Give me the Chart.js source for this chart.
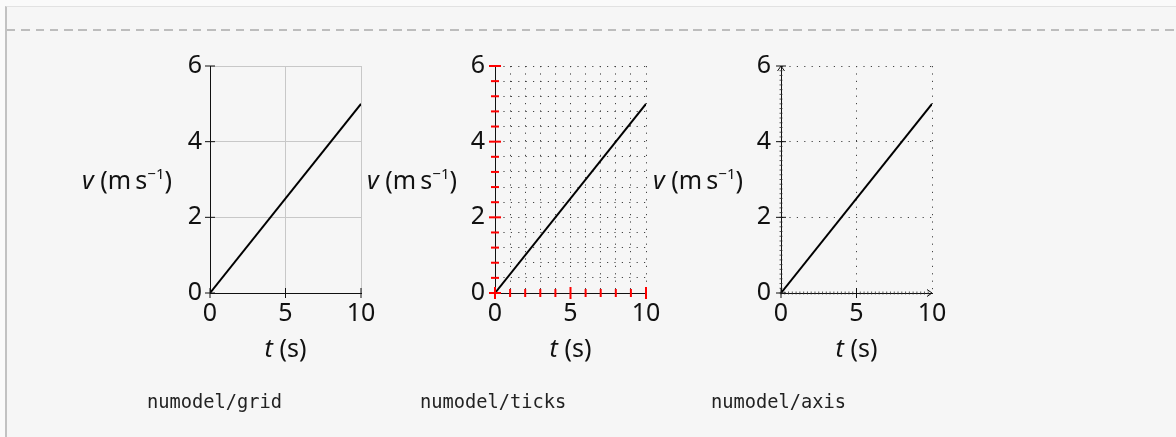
<!DOCTYPE html>
<html>
<head>
<meta charset="utf-8">
<script src="https://cdn.jsdelivr.net/npm/chart.js@4/dist/chart.umd.min.js"></script>
<style>
  html, body { margin: 0; padding: 0; }
  body { width: 1176px; height: 437px; background: #fafafa; position: relative; overflow: hidden; font-family: "Noto Sans", sans-serif; }
  #frame { position: absolute; left: 5px; top: 6px; right: 0; bottom: 0; background: #f6f6f6; border-top: 1px solid #e2e2e2; border-left: 2px solid #c2c2c2; }
  #dash { position: absolute; left: 7px; right: 0; top: 29px; height: 2px;
          background: repeating-linear-gradient(90deg, #bdbdbd 0 8.5px, transparent 8.5px 14.3px); }
  .panel { position: absolute; top: 36px; }
  .ylab, .xlab { position: absolute; font-size: 25px; line-height: 26px; color: #111; white-space: nowrap; }
  .ylab sup { font-size: 15px; vertical-align: 10px; line-height: 0; }
  .cap { position: absolute; top: 391px; font-family: "DejaVu Sans Mono", monospace; font-size: 18.7px; color: #222; white-space: nowrap; }
</style>
</head>
<body>
<div id="frame"></div>
<div id="dash"></div>

<script>
// data
const time = [0, 10];          // t (s)
const speed = [0, 5];          // v (m/s)
const xMajorTicks = [0, 5, 10];
const yMajorTicks = [0, 2, 4, 6];
const xMinorTicks = [1, 2, 3, 4, 6, 7, 8, 9];
const yMinorTicks = [0.4, 0.8, 1.2, 1.6, 2.4, 2.8, 3.2, 3.6, 4.4, 4.8, 5.2, 5.6];
const captions = ['numodel/grid', 'numodel/ticks', 'numodel/axis'];
const xTitle = '<i>t</i> (s)';
const yTitle = '<i>v</i>&nbsp;(m\u2006s<sup>\u22121</sup>)';

// layout of the three panels (left edge of each plot area)
const plotLeft = [210, 495, 781];
const captionLeft = [147, 420, 711];
const PW = 151, PH = 227;

// draws ticks that cross the axes, and optional arrow heads
const axisMarks = {
  id: 'axisMarks',
  afterDraw(chart, args, o) {
    const { ctx, chartArea: a, scales: { x, y } } = chart;
    ctx.save();
    ctx.lineCap = 'butt';
    const hTick = (v, len) => {
      const py = y.getPixelForValue(v);
      ctx.beginPath(); ctx.moveTo(a.left - len, py); ctx.lineTo(a.left + len, py); ctx.stroke();
    };
    const vTick = (v, len) => {
      const px = x.getPixelForValue(v);
      ctx.beginPath(); ctx.moveTo(px, a.bottom - len); ctx.lineTo(px, a.bottom + len); ctx.stroke();
    };
    if (o.tiny) {
      ctx.strokeStyle = '#333'; ctx.lineWidth = 0.8;
      for (let v = 0; v < 10; v += o.tiny[0]) vTick(v, 1.5);
      for (let v = 0; v < 6; v += o.tiny[1]) hTick(v, 1.5);
    }
    ctx.strokeStyle = o.color; ctx.lineWidth = o.width;
    (o.xMinor || []).forEach(v => vTick(v, o.minorLen));
    (o.yMinor || []).forEach(v => hTick(v, o.minorLen));
    (o.xMajor || []).forEach(v => vTick(v, o.majorLen));
    (o.yMajor || []).forEach(v => hTick(v, o.majorLen));
    if (o.arrows) {
      ctx.strokeStyle = '#111'; ctx.lineWidth = 1;
      ctx.beginPath();
      ctx.moveTo(a.left - 3.5, a.top + 5); ctx.lineTo(a.left, a.top); ctx.lineTo(a.left + 3.5, a.top + 5);
      ctx.moveTo(a.right - 5, a.bottom - 3.5); ctx.lineTo(a.right, a.bottom); ctx.lineTo(a.right - 5, a.bottom + 3.5);
      ctx.stroke();
    }
    ctx.restore();
  }
};

function makePanel(i, cfg) {
  const L = plotLeft[i];
  const panel = document.createElement('div');
  panel.className = 'panel';
  panel.style.left = (L - 60) + 'px';
  const canvas = document.createElement('canvas');
  canvas.width = 60 + PW + 40;
  canvas.height = 30 + PH + 60;
  panel.appendChild(canvas);
  document.body.appendChild(panel);

  const yl = document.createElement('div');
  yl.className = 'ylab';
  yl.innerHTML = yTitle;
  yl.style.right = (1176 - (L - 38)) + 'px';
  yl.style.top = '166px';
  document.body.appendChild(yl);

  const xl = document.createElement('div');
  xl.className = 'xlab';
  xl.innerHTML = xTitle;
  xl.style.left = (L + PW / 2) + 'px';
  xl.style.top = '334px';
  xl.style.transform = 'translateX(-50%)';
  document.body.appendChild(xl);

  const cap = document.createElement('div');
  cap.className = 'cap';
  cap.textContent = captions[i];
  cap.style.left = captionLeft[i] + 'px';
  document.body.appendChild(cap);

  const tickFont = { family: 'Noto Sans', size: 25 };
  const gridColor = ctx => (ctx.tick && ctx.tick.value === 0) ? 'rgba(0,0,0,0)' : cfg.gridColor;

  new Chart(canvas.getContext('2d'), {
    type: 'scatter',
    data: {
      datasets: [{
        data: time.map((t, k) => ({ x: t, y: speed[k] })),
        showLine: true,
        borderColor: '#000',
        borderWidth: 2,
        pointRadius: 0
      }]
    },
    options: {
      responsive: false,
      animation: false,
      devicePixelRatio: 1,
      layout: { autoPadding: false, padding: { left: 0, top: 30, right: 40, bottom: 0 } },
      plugins: {
        legend: { display: false },
        tooltip: { enabled: false },
        axisMarks: cfg.marks
      },
      scales: {
        x: {
          type: 'linear', min: 0, max: 10,
          afterFit: s => { s.height = 60; },
          afterBuildTicks: s => { s.ticks = cfg.xTicks.map(value => ({ value })); },
          ticks: {
            autoSkip: false, maxRotation: 0, padding: 6, color: '#111', font: tickFont,
            callback: v => xMajorTicks.includes(v) ? String(v) : ''
          },
          grid: { drawTicks: false, color: gridColor, lineWidth: 1 },
          border: { color: '#111', width: 1, dash: cfg.dash }
        },
        y: {
          type: 'linear', min: 0, max: 6,
          afterFit: s => { s.width = 60; },
          afterBuildTicks: s => { s.ticks = cfg.yTicks.map(value => ({ value })); },
          ticks: {
            autoSkip: false, padding: cfg.yPad, color: '#111', font: tickFont,
            callback: v => yMajorTicks.some(m => Math.abs(m - v) < 1e-6) ? String(v) : ''
          },
          grid: { drawTicks: false, color: gridColor, lineWidth: 1 },
          border: { color: '#111', width: 1, dash: cfg.dash }
        }
      }
    },
    plugins: [axisMarks]
  });
}

const allX = xMajorTicks.concat(xMinorTicks).sort((a, b) => a - b);
const allY = yMajorTicks.concat(yMinorTicks).sort((a, b) => a - b);

makePanel(0, {
  xTicks: xMajorTicks, yTicks: yMajorTicks, gridColor: '#c8c8c8', dash: [], yPad: 8,
  marks: { color: '#111', width: 1, majorLen: 5, xMajor: xMajorTicks, yMajor: yMajorTicks }
});
makePanel(1, {
  xTicks: allX, yTicks: allY, gridColor: '#444', dash: [1.2, 6.2], yPad: 10,
  marks: { color: '#f00', width: 2, majorLen: 6, minorLen: 4,
           xMajor: xMajorTicks, yMajor: yMajorTicks, xMinor: xMinorTicks, yMinor: yMinorTicks }
});
makePanel(2, {
  xTicks: xMajorTicks, yTicks: yMajorTicks, gridColor: '#444', dash: [1.2, 6.2], yPad: 10,
  marks: { color: '#111', width: 1, majorLen: 5, xMajor: [0, 5], yMajor: yMajorTicks,
           tiny: [0.25, 0.125], arrows: true }
});
</script>
</body>
</html>
